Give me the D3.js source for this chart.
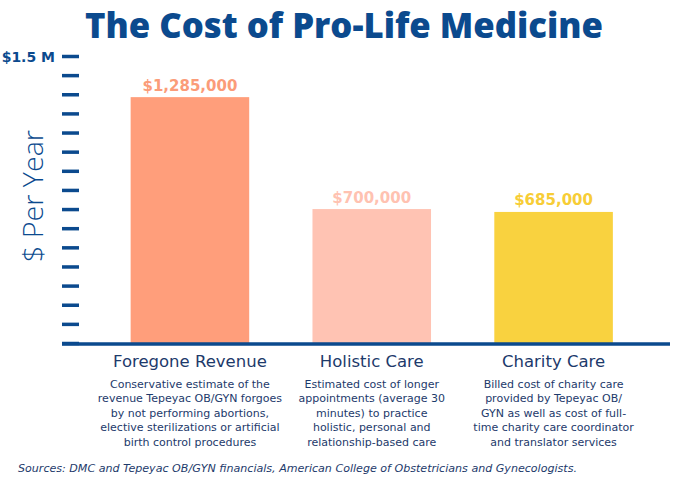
<!DOCTYPE html>
<html>
<head>
<meta charset="utf-8">
<script src="https://cdn.jsdelivr.net/npm/d3@7"></script>
<style>
  html, body { margin: 0; padding: 0; background: #ffffff; }
  svg { display: block; }
</style>
</head>
<body>
<svg id="chart" width="689" height="478"></svg>
<script>
// ---- data ----
const categories = ["Foregone Revenue", "Holistic Care", "Charity Care"];
const values = [1285000, 700000, 685000];
const valueLabels = ["$1,285,000", "$700,000", "$685,000"];
const descriptions = [
  ["Conservative estimate of the", "revenue Tepeyac OB/GYN forgoes", "by not performing abortions,", "elective sterilizations or artificial", "birth control procedures"],
  ["Estimated cost of longer", "appointments (average 30", "minutes) to practice", "holistic, personal and", "relationship-based care"],
  ["Billed cost of charity care", "provided by Tepeyac OB/", "GYN as well as cost of full-", "time charity care coordinator", "and translator services"]
];
const tickValues = d3.range(0, 1500001, 100000);
const topTickLabel = "$1.5 M";
const titleText = "The Cost of Pro-Life Medicine";
const yTitle = "$ Per Year";
const sourceText = "Sources: DMC and Tepeyac OB/GYN financials, American College of Obstetricians and Gynecologists.";

// ---- styles ----
const navy = "#0b4a8e";
const textNavy = "#1d3a6b";
const barColors = ["#ff9e7b", "#ffc3b3", "#f9d23f"];
const labelColors = ["#fb9c79", "#ffc2b1", "#f7cd36"];
const font = "'DejaVu Sans', 'Open Sans', sans-serif";

const svg = d3.select("#chart");

const y = d3.scaleLinear().domain([0, 1500000]).range([343, 56]);
const x = d3.scaleBand().domain(categories).range([99, 644.5]).paddingInner(0.348).paddingOuter(0.174);

// title
svg.append("text")
  .attr("x", 344).attr("y", 38)
  .attr("text-anchor", "middle")
  .attr("font-family", "'Open Sans', sans-serif")
  .attr("font-weight", 800)
  .attr("font-size", 35)
  .attr("textLength", 518)
  .attr("lengthAdjust", "spacingAndGlyphs")
  .attr("fill", navy)
  .text(titleText);

// bars
svg.selectAll("rect.bar").data(values).join("rect")
  .attr("class", "bar")
  .attr("x", (d, i) => x(categories[i]))
  .attr("width", x.bandwidth())
  .attr("y", d => y(d))
  .attr("height", d => y(0) - y(d))
  .attr("fill", (d, i) => barColors[i]);

// value labels
svg.selectAll("text.vlab").data(values).join("text")
  .attr("class", "vlab")
  .attr("x", (d, i) => x(categories[i]) + x.bandwidth() / 2)
  .attr("y", d => y(d) - 6.5)
  .attr("text-anchor", "middle")
  .attr("font-family", font)
  .attr("font-weight", 700)
  .attr("font-size", 15)
  .attr("fill", (d, i) => labelColors[i])
  .text((d, i) => valueLabels[i]);

// y axis ticks
const yAxis = d3.axisLeft(y).tickValues(tickValues).tickSize(17).tickFormat("");
const gy = svg.append("g").attr("transform", "translate(79,0)").call(yAxis);
gy.select(".domain").remove();
gy.selectAll(".tick line").attr("stroke", navy).attr("stroke-width", 3.5);

// baseline
svg.append("line")
  .attr("x1", 62).attr("x2", 670)
  .attr("y1", y(0) + 1).attr("y2", y(0) + 1)
  .attr("stroke", navy).attr("stroke-width", 3.5);

// top tick label
svg.append("text")
  .attr("x", 55).attr("y", y(1500000) + 5.5)
  .attr("text-anchor", "end")
  .attr("font-family", font)
  .attr("font-weight", 700)
  .attr("font-size", 14)
  .attr("fill", navy)
  .text(topTickLabel);

// y title
svg.append("text")
  .attr("transform", "translate(43,196) rotate(-90)")
  .attr("text-anchor", "middle")
  .attr("font-family", "'Open Sans', sans-serif")
  .attr("font-weight", 300)
  .attr("font-size", 27)
  .attr("textLength", 132)
  .attr("lengthAdjust", "spacingAndGlyphs")
  .attr("fill", navy)
  .text(yTitle);

// category labels
svg.selectAll("text.cat").data(categories).join("text")
  .attr("class", "cat")
  .attr("x", d => x(d) + x.bandwidth() / 2)
  .attr("y", 367)
  .attr("text-anchor", "middle")
  .attr("font-family", font)
  .attr("font-weight", 400)
  .attr("font-size", 16.5)
  .attr("fill", textNavy)
  .text(d => d);

// descriptions
categories.forEach((c, i) => {
  const t = svg.append("text")
    .attr("text-anchor", "middle")
    .attr("font-family", font)
    .attr("font-size", 11)
    .attr("fill", textNavy);
  descriptions[i].forEach((line, j) => {
    t.append("tspan")
      .attr("x", x(c) + x.bandwidth() / 2)
      .attr("y", 388 + j * 14.4)
      .text(line);
  });
});

// source
svg.append("text")
  .attr("x", 18).attr("y", 472)
  .attr("font-family", font)
  .attr("font-style", "italic")
  .attr("font-size", 10.5)
  .attr("textLength", 559)
  .attr("lengthAdjust", "spacingAndGlyphs")
  .attr("fill", textNavy)
  .text(sourceText);
</script>
</body>
</html>
